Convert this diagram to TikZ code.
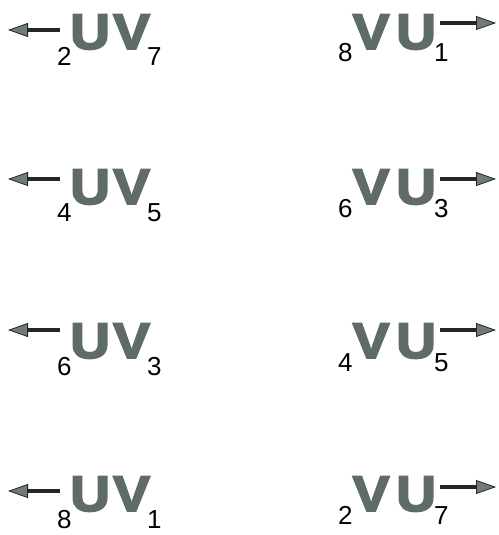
\documentclass[tikz,border=0pt]{standalone}
\usepackage{fontspec}
\setmainfont{Liberation Sans}
\newfontfamily\letterfont[FakeBold=3.5]{Liberation Sans Bold}
\usetikzlibrary{arrows.meta}
\definecolor{lettergray}{RGB}{95,107,104}
\definecolor{tipgray}{RGB}{112,122,120}
\begin{document}
\begin{tikzpicture}[x=1pt,y=-1pt,
  letter/.style={inner sep=0pt,anchor=base west,text=lettergray,font=\letterfont\fontsize{50}{50}\selectfont,xscale=1.1},
  digit/.style={inner sep=0pt,anchor=base west,font=\fontsize{26}{26}\selectfont},
  dirarrow/.style={line width=3.2pt,draw=black!85,-{Triangle[length=20pt,width=14pt,fill=tipgray,line width=0.8pt]}}]
\useasboundingbox (0,0) rectangle (498,535);
% rows: top of letters, digits left and right, arrow heights
\foreach \r/\yt/\a/\b/\c/\d/\ly/\ry in {1/12/2/7/8/1/30/23,2/167/4/5/6/3/179/179,3/321/6/3/4/5/330/330,4/474/8/1/2/7/491/487}{
  % left group
  \node[letter] (lu\r) at (70,\yt+37) {U};
  \node[letter] (lv\r) at (113,\yt+37) {V};
  \node[digit] (la\r) at (57,\yt+54) {\a};
  \node[digit] (lb\r) at (147,\yt+54) {\b};
  \coordinate (ltip\r) at (8,\ly);
  \draw[dirarrow,shorten <=10pt] (lu\r.west |- ltip\r) -- (ltip\r);
  % right group
  \node[letter] (rv\r) at (352.5,\yt+37) {V};
  \node[letter] (ru\r) at (396,\yt+37) {U};
  \node[digit] (rc\r) at (338,\yt+50) {\c};
  \node[digit] (rd\r) at (434,\yt+50) {\d};
  \coordinate (rtip\r) at (496,\ry);
  \draw[dirarrow,shorten <=4pt] (ru\r.east |- rtip\r) -- (rtip\r);
}
\end{tikzpicture}
\end{document}
